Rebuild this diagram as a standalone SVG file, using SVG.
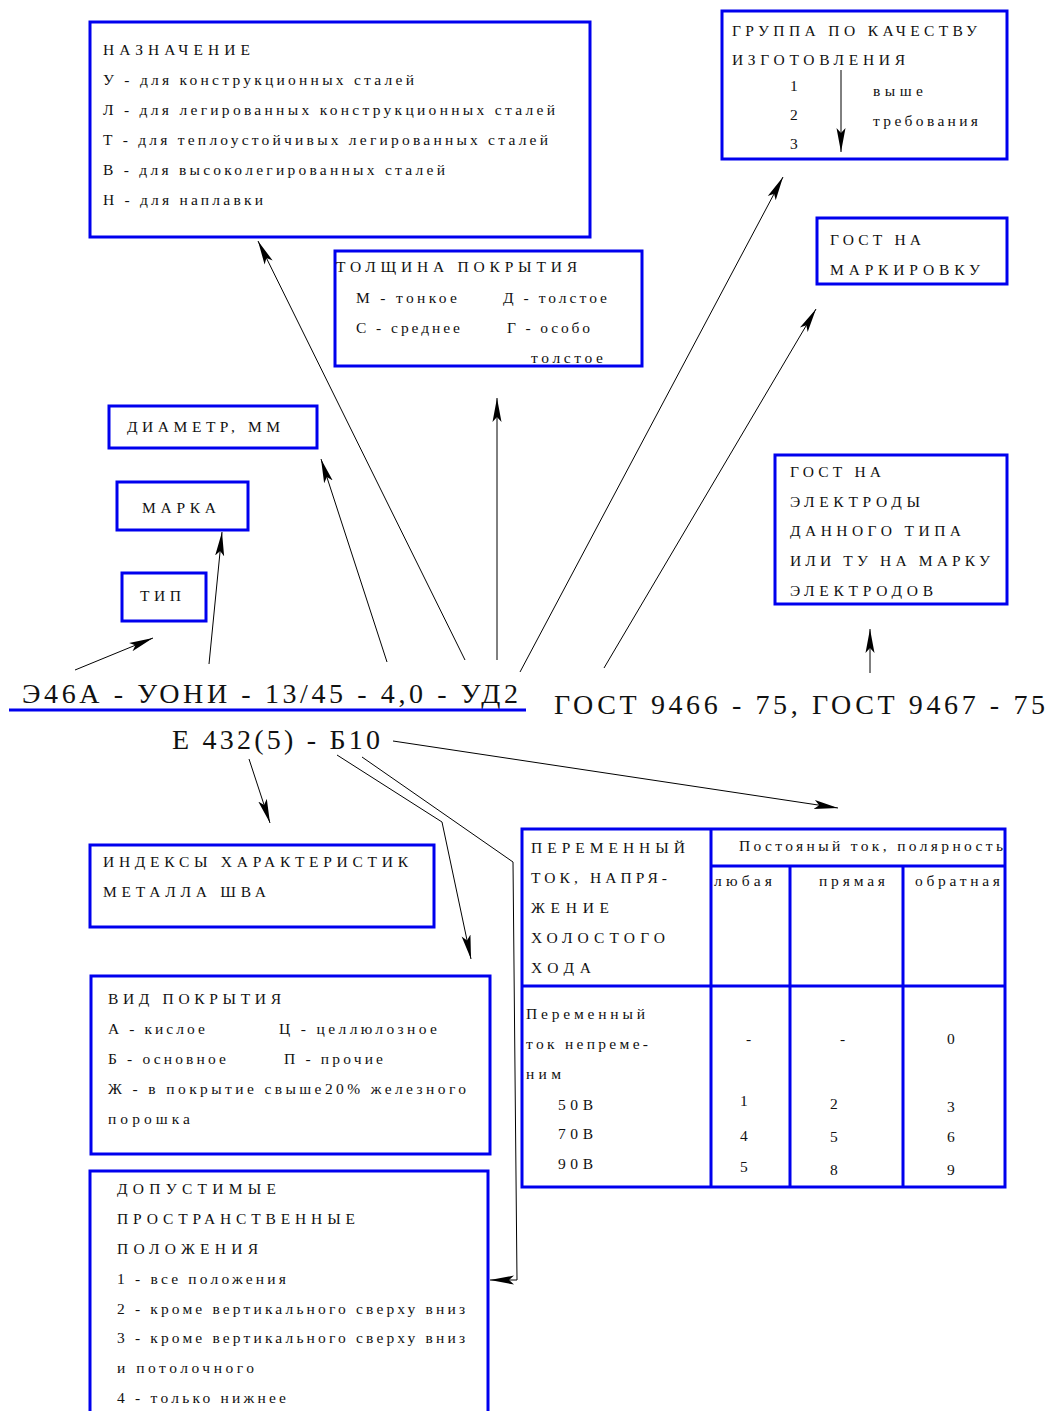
<svg xmlns="http://www.w3.org/2000/svg" width="1049" height="1411" viewBox="0 0 1049 1411">
<style>
.box{fill:none;stroke:#0000ee;stroke-width:3}
.t{font-family:"Liberation Serif","Times New Roman",serif;font-size:15.5px;fill:#111}
.big{font-family:"Liberation Serif","Times New Roman",serif;font-size:28px;fill:#111}
.c{fill:none;stroke:#000;stroke-width:1}
</style>
<defs>
<marker id="ah" markerUnits="userSpaceOnUse" markerWidth="26" markerHeight="12" refX="24" refY="6" orient="auto">
<path d="M0,1.5 L24,6 L0,10.5 L5,6 z" fill="#000"/>
</marker>
</defs>
<rect width="1049" height="1411" fill="#fff"/>

<g id="naznachenie">
<rect class="box" x="90" y="22" width="500" height="215"/>
<text class="t" x="103" y="55" textLength="147" lengthAdjust="spacing">НАЗНАЧЕНИЕ</text>
<text class="t" x="103" y="85" textLength="311" lengthAdjust="spacing">У - для конструкционных сталей</text>
<text class="t" x="103" y="115" textLength="452" lengthAdjust="spacing">Л - для легированных конструкционных сталей</text>
<text class="t" x="103" y="145" textLength="445" lengthAdjust="spacing">Т - для теплоустойчивых легированных сталей</text>
<text class="t" x="103" y="175" textLength="342" lengthAdjust="spacing">В - для высоколегированных сталей</text>
<text class="t" x="103" y="205" textLength="160" lengthAdjust="spacing">Н - для наплавки</text>
</g>

<g id="tolshchina">
<rect class="box" x="335" y="251" width="307" height="115"/>
<text class="t" x="336" y="272" textLength="241" lengthAdjust="spacing">ТОЛЩИНА ПОКРЫТИЯ</text>
<text class="t" x="356" y="303" textLength="101" lengthAdjust="spacing">М - тонкое</text>
<text class="t" x="503" y="303" textLength="104" lengthAdjust="spacing">Д - толстое</text>
<text class="t" x="356" y="333" textLength="104" lengthAdjust="spacing">С - среднее</text>
<text class="t" x="507" y="333" textLength="83" lengthAdjust="spacing">Г - особо</text>
<text class="t" x="531" y="363" textLength="72" lengthAdjust="spacing">толстое</text>
</g>

<g id="gruppa">
<rect class="box" x="722" y="11" width="285" height="148"/>
<text class="t" x="732" y="36" textLength="245" lengthAdjust="spacing">ГРУППА ПО КАЧЕСТВУ</text>
<text class="t" x="732" y="65" textLength="173" lengthAdjust="spacing">ИЗГОТОВЛЕНИЯ</text>
<text class="t" x="790" y="91">1</text>
<text class="t" x="790" y="120">2</text>
<text class="t" x="790" y="149">3</text>
<text class="t" x="873" y="96" textLength="50" lengthAdjust="spacing">выше</text>
<text class="t" x="873" y="126" textLength="105" lengthAdjust="spacing">требования</text>
<line class="c" x1="841" y1="70" x2="841" y2="152" marker-end="url(#ah)" stroke="#555"/>
</g>

<g id="gost-markirovka">
<rect class="box" x="817" y="218" width="190" height="66"/>
<text class="t" x="830" y="245" textLength="91" lengthAdjust="spacing">ГОСТ НА</text>
<text class="t" x="830" y="275" textLength="150" lengthAdjust="spacing">МАРКИРОВКУ</text>
</g>

<g id="diametr">
<rect class="box" x="109" y="406" width="208" height="42"/>
<text class="t" x="127" y="432" textLength="153" lengthAdjust="spacing">ДИАМЕТР, ММ</text>
</g>

<g id="marka">
<rect class="box" x="117" y="482" width="131" height="48"/>
<text class="t" x="142" y="513" textLength="74" lengthAdjust="spacing">МАРКА</text>
</g>

<g id="tip">
<rect class="box" x="122" y="573" width="84" height="48"/>
<text class="t" x="140" y="601" textLength="41" lengthAdjust="spacing">ТИП</text>
</g>

<g id="gost-elektrody">
<rect class="box" x="775" y="455" width="232" height="149"/>
<text class="t" x="790" y="477" textLength="91" lengthAdjust="spacing">ГОСТ НА</text>
<text class="t" x="790" y="507" textLength="130" lengthAdjust="spacing">ЭЛЕКТРОДЫ</text>
<text class="t" x="790" y="536" textLength="171" lengthAdjust="spacing">ДАННОГО ТИПА</text>
<text class="t" x="790" y="566" textLength="200" lengthAdjust="spacing">ИЛИ ТУ НА МАРКУ</text>
<text class="t" x="790" y="596" textLength="143" lengthAdjust="spacing">ЭЛЕКТРОДОВ</text>
</g>

<g id="oboznachenie">
<text class="big" x="22" y="703" textLength="496" lengthAdjust="spacing">Э46А - УОНИ - 13/45 - 4,0 - УД2</text>
<line x1="9" y1="710" x2="526" y2="710" stroke="#0000ee" stroke-width="3"/>
<text class="big" x="172" y="749" textLength="208" lengthAdjust="spacing">Е 432(5) - Б10</text>
</g>

<g id="gost-main">
<text class="big" x="554" y="714" textLength="491" lengthAdjust="spacing">ГОСТ 9466 - 75, ГОСТ 9467 - 75</text>
</g>

<g id="indeksy">
<rect class="box" x="90" y="845" width="344" height="82"/>
<text class="t" x="103" y="867" textLength="305" lengthAdjust="spacing">ИНДЕКСЫ ХАРАКТЕРИСТИК</text>
<text class="t" x="103" y="897" textLength="163" lengthAdjust="spacing">МЕТАЛЛА ШВА</text>
</g>

<g id="vid-pokrytiya">
<rect class="box" x="91" y="976" width="399" height="178"/>
<text class="t" x="108" y="1004" textLength="173" lengthAdjust="spacing">ВИД ПОКРЫТИЯ</text>
<text class="t" x="108" y="1034" textLength="97" lengthAdjust="spacing">А - кислое</text>
<text class="t" x="279" y="1034" textLength="158" lengthAdjust="spacing">Ц - целлюлозное</text>
<text class="t" x="108" y="1064" textLength="118" lengthAdjust="spacing">Б - основное</text>
<text class="t" x="284" y="1064" textLength="99" lengthAdjust="spacing">П - прочие</text>
<text class="t" x="108" y="1094" textLength="358" lengthAdjust="spacing">Ж - в покрытие свыше20% железного</text>
<text class="t" x="108" y="1124" textLength="82" lengthAdjust="spacing">порошка</text>
</g>

<g id="dopustimye">
<rect class="box" x="90" y="1171" width="398" height="260"/>
<text class="t" x="117" y="1194" textLength="159" lengthAdjust="spacing">ДОПУСТИМЫЕ</text>
<text class="t" x="117" y="1224" textLength="238" lengthAdjust="spacing">ПРОСТРАНСТВЕННЫЕ</text>
<text class="t" x="117" y="1254" textLength="141" lengthAdjust="spacing">ПОЛОЖЕНИЯ</text>
<text class="t" x="117" y="1284" textLength="169" lengthAdjust="spacing">1 - все положения</text>
<text class="t" x="117" y="1314" textLength="348" lengthAdjust="spacing">2 - кроме вертикального сверху вниз</text>
<text class="t" x="117" y="1343" textLength="348" lengthAdjust="spacing">3 - кроме вертикального сверху вниз</text>
<text class="t" x="117" y="1373" textLength="137" lengthAdjust="spacing">и потолочного</text>
<text class="t" x="117" y="1403" textLength="169" lengthAdjust="spacing">4 - только нижнее</text>
</g>

<g id="tablica">
<rect class="box" x="522" y="829" width="483" height="358"/>
<line class="box" x1="711" y1="829" x2="711" y2="1187"/>
<line class="box" x1="711" y1="866" x2="1005" y2="866"/>
<line class="box" x1="522" y1="986" x2="1005" y2="986"/>
<line class="box" x1="790" y1="866" x2="790" y2="1187"/>
<line class="box" x1="903" y1="866" x2="903" y2="1187"/>
<text class="t" x="531" y="853" textLength="154" lengthAdjust="spacing">ПЕРЕМЕННЫЙ</text>
<text class="t" x="531" y="883" textLength="136" lengthAdjust="spacing">ТОК, НАПРЯ-</text>
<text class="t" x="531" y="913" textLength="78" lengthAdjust="spacing">ЖЕНИЕ</text>
<text class="t" x="531" y="943" textLength="134" lengthAdjust="spacing">ХОЛОСТОГО</text>
<text class="t" x="531" y="973" textLength="60" lengthAdjust="spacing">ХОДА</text>
<text class="t" x="739" y="851" textLength="264" lengthAdjust="spacing">Постояный ток, полярность</text>
<text class="t" x="714" y="886" textLength="58" lengthAdjust="spacing">любая</text>
<text class="t" x="819" y="886" textLength="66" lengthAdjust="spacing">прямая</text>
<text class="t" x="915" y="886" textLength="85" lengthAdjust="spacing">обратная</text>
<text class="t" x="526" y="1019" textLength="119" lengthAdjust="spacing">Переменный</text>
<text class="t" x="526" y="1049" textLength="122" lengthAdjust="spacing">ток непреме-</text>
<text class="t" x="526" y="1079" textLength="35" lengthAdjust="spacing">ним</text>
<text class="t" x="558" y="1110" textLength="35" lengthAdjust="spacing">50В</text>
<text class="t" x="558" y="1139" textLength="35" lengthAdjust="spacing">70В</text>
<text class="t" x="558" y="1169" textLength="35" lengthAdjust="spacing">90В</text>
<text class="t" x="746" y="1044">-</text>
<text class="t" x="840" y="1044">-</text>
<text class="t" x="947" y="1044">0</text>
<text class="t" x="740" y="1106">1</text>
<text class="t" x="830" y="1109">2</text>
<text class="t" x="947" y="1112">3</text>
<text class="t" x="740" y="1141">4</text>
<text class="t" x="830" y="1142">5</text>
<text class="t" x="947" y="1142">6</text>
<text class="t" x="740" y="1172">5</text>
<text class="t" x="830" y="1175">8</text>
<text class="t" x="947" y="1175">9</text>
</g>

<g id="connectors">
<line class="c" x1="75" y1="670" x2="153" y2="638" marker-end="url(#ah)"/>
<line class="c" x1="209" y1="664" x2="222" y2="532" marker-end="url(#ah)"/>
<line class="c" x1="387" y1="662" x2="321" y2="459" marker-end="url(#ah)"/>
<line class="c" x1="465" y1="660" x2="258" y2="241" marker-end="url(#ah)"/>
<line class="c" x1="497" y1="660" x2="497" y2="398" marker-end="url(#ah)"/>
<line class="c" x1="520" y1="672" x2="783" y2="177" marker-end="url(#ah)"/>
<line class="c" x1="604" y1="668" x2="816" y2="309" marker-end="url(#ah)"/>
<line class="c" x1="870" y1="673" x2="870" y2="629" marker-end="url(#ah)"/>
<line class="c" x1="249" y1="759" x2="270" y2="823" marker-end="url(#ah)"/>
<polyline class="c" points="337,755 442,822 471,959" marker-end="url(#ah)"/>
<polyline class="c" points="362,757 513,862 517,1280 490,1280" marker-end="url(#ah)"/>
<line class="c" x1="393" y1="741" x2="838" y2="808" marker-end="url(#ah)"/>
</g>
</svg>
